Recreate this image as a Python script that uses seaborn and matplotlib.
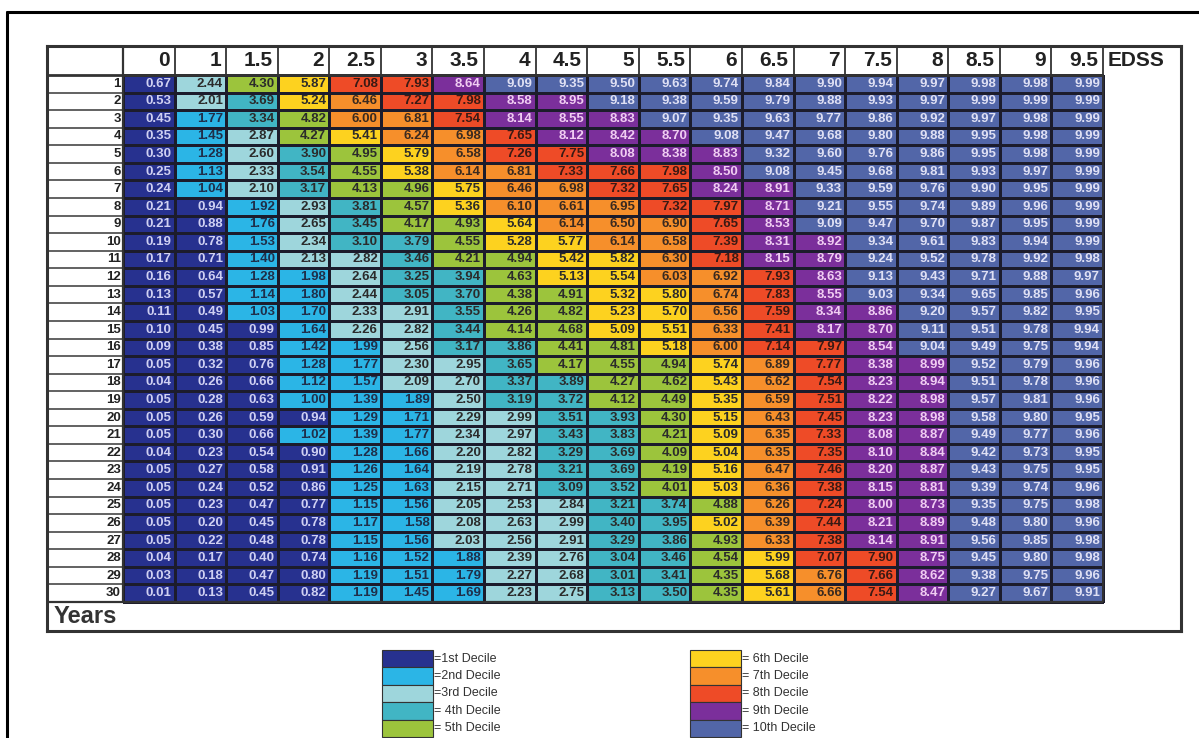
import numpy as np
import pandas as pd
import matplotlib
matplotlib.use("Agg")
import matplotlib.pyplot as plt
from matplotlib.colors import ListedColormap, BoundaryNorm
from matplotlib.patches import Rectangle
from matplotlib.lines import Line2D
import seaborn as sns

# EDSS score columns and follow-up years (rows)
edss_cols = ["0", "1", "1.5", "2", "2.5", "3", "3.5", "4", "4.5", "5",
             "5.5", "6", "6.5", "7", "7.5", "8", "8.5", "9", "9.5"]
years = list(range(1, 31))

# one list per year row
y1 = [0.67, 2.44, 4.30, 5.87, 7.08, 7.93, 8.64, 9.09, 9.35, 9.50, 9.63, 9.74, 9.84, 9.90, 9.94, 9.97, 9.98, 9.98, 9.99]
y2 = [0.53, 2.01, 3.69, 5.24, 6.46, 7.27, 7.98, 8.58, 8.95, 9.18, 9.38, 9.59, 9.79, 9.88, 9.93, 9.97, 9.99, 9.99, 9.99]
y3 = [0.45, 1.77, 3.34, 4.82, 6.00, 6.81, 7.54, 8.14, 8.55, 8.83, 9.07, 9.35, 9.63, 9.77, 9.86, 9.92, 9.97, 9.98, 9.99]
y4 = [0.35, 1.45, 2.87, 4.27, 5.41, 6.24, 6.98, 7.65, 8.12, 8.42, 8.70, 9.08, 9.47, 9.68, 9.80, 9.88, 9.95, 9.98, 9.99]
y5 = [0.30, 1.28, 2.60, 3.90, 4.95, 5.79, 6.58, 7.26, 7.75, 8.08, 8.38, 8.83, 9.32, 9.60, 9.76, 9.86, 9.95, 9.98, 9.99]
y6 = [0.25, 1.13, 2.33, 3.54, 4.55, 5.38, 6.14, 6.81, 7.33, 7.66, 7.98, 8.50, 9.08, 9.45, 9.68, 9.81, 9.93, 9.97, 9.99]
y7 = [0.24, 1.04, 2.10, 3.17, 4.13, 4.96, 5.75, 6.46, 6.98, 7.32, 7.65, 8.24, 8.91, 9.33, 9.59, 9.76, 9.90, 9.95, 9.99]
y8 = [0.21, 0.94, 1.92, 2.93, 3.81, 4.57, 5.36, 6.10, 6.61, 6.95, 7.32, 7.97, 8.71, 9.21, 9.55, 9.74, 9.89, 9.96, 9.99]
y9 = [0.21, 0.88, 1.76, 2.65, 3.45, 4.17, 4.93, 5.64, 6.14, 6.50, 6.90, 7.65, 8.53, 9.09, 9.47, 9.70, 9.87, 9.95, 9.99]
y10 = [0.19, 0.78, 1.53, 2.34, 3.10, 3.79, 4.55, 5.28, 5.77, 6.14, 6.58, 7.39, 8.31, 8.92, 9.34, 9.61, 9.83, 9.94, 9.99]
y11 = [0.17, 0.71, 1.40, 2.13, 2.82, 3.46, 4.21, 4.94, 5.42, 5.82, 6.30, 7.18, 8.15, 8.79, 9.24, 9.52, 9.78, 9.92, 9.98]
y12 = [0.16, 0.64, 1.28, 1.98, 2.64, 3.25, 3.94, 4.63, 5.13, 5.54, 6.03, 6.92, 7.93, 8.63, 9.13, 9.43, 9.71, 9.88, 9.97]
y13 = [0.13, 0.57, 1.14, 1.80, 2.44, 3.05, 3.70, 4.38, 4.91, 5.32, 5.80, 6.74, 7.83, 8.55, 9.03, 9.34, 9.65, 9.85, 9.96]
y14 = [0.11, 0.49, 1.03, 1.70, 2.33, 2.91, 3.55, 4.26, 4.82, 5.23, 5.70, 6.56, 7.59, 8.34, 8.86, 9.20, 9.57, 9.82, 9.95]
y15 = [0.10, 0.45, 0.99, 1.64, 2.26, 2.82, 3.44, 4.14, 4.68, 5.09, 5.51, 6.33, 7.41, 8.17, 8.70, 9.11, 9.51, 9.78, 9.94]
y16 = [0.09, 0.38, 0.85, 1.42, 1.99, 2.56, 3.17, 3.86, 4.41, 4.81, 5.18, 6.00, 7.14, 7.97, 8.54, 9.04, 9.49, 9.75, 9.94]
y17 = [0.05, 0.32, 0.76, 1.28, 1.77, 2.30, 2.95, 3.65, 4.17, 4.55, 4.94, 5.74, 6.89, 7.77, 8.38, 8.99, 9.52, 9.79, 9.96]
y18 = [0.04, 0.26, 0.66, 1.12, 1.57, 2.09, 2.70, 3.37, 3.89, 4.27, 4.62, 5.43, 6.62, 7.54, 8.23, 8.94, 9.51, 9.78, 9.96]
y19 = [0.05, 0.28, 0.63, 1.00, 1.39, 1.89, 2.50, 3.19, 3.72, 4.12, 4.49, 5.35, 6.59, 7.51, 8.22, 8.98, 9.57, 9.81, 9.96]
y20 = [0.05, 0.26, 0.59, 0.94, 1.29, 1.71, 2.29, 2.99, 3.51, 3.93, 4.30, 5.15, 6.43, 7.45, 8.23, 8.98, 9.58, 9.80, 9.95]
y21 = [0.05, 0.30, 0.66, 1.02, 1.39, 1.77, 2.34, 2.97, 3.43, 3.83, 4.21, 5.09, 6.35, 7.33, 8.08, 8.87, 9.49, 9.77, 9.96]
y22 = [0.04, 0.23, 0.54, 0.90, 1.28, 1.66, 2.20, 2.82, 3.29, 3.69, 4.09, 5.04, 6.35, 7.35, 8.10, 8.84, 9.42, 9.73, 9.95]
y23 = [0.05, 0.27, 0.58, 0.91, 1.26, 1.64, 2.19, 2.78, 3.21, 3.69, 4.19, 5.16, 6.47, 7.46, 8.20, 8.87, 9.43, 9.75, 9.95]
y24 = [0.05, 0.24, 0.52, 0.86, 1.25, 1.63, 2.15, 2.71, 3.09, 3.52, 4.01, 5.03, 6.36, 7.38, 8.15, 8.81, 9.39, 9.74, 9.96]
y25 = [0.05, 0.23, 0.47, 0.77, 1.15, 1.56, 2.05, 2.53, 2.84, 3.21, 3.74, 4.88, 6.26, 7.24, 8.00, 8.73, 9.35, 9.75, 9.98]
y26 = [0.05, 0.20, 0.45, 0.78, 1.17, 1.58, 2.08, 2.63, 2.99, 3.40, 3.95, 5.02, 6.39, 7.44, 8.21, 8.89, 9.48, 9.80, 9.96]
y27 = [0.05, 0.22, 0.48, 0.78, 1.15, 1.56, 2.03, 2.56, 2.91, 3.29, 3.86, 4.93, 6.33, 7.38, 8.14, 8.91, 9.56, 9.85, 9.98]
y28 = [0.04, 0.17, 0.40, 0.74, 1.16, 1.52, 1.88, 2.39, 2.76, 3.04, 3.46, 4.54, 5.99, 7.07, 7.90, 8.75, 9.45, 9.80, 9.98]
y29 = [0.03, 0.18, 0.47, 0.80, 1.19, 1.51, 1.79, 2.27, 2.68, 3.01, 3.41, 4.35, 5.68, 6.76, 7.66, 8.62, 9.38, 9.75, 9.96]
y30 = [0.01, 0.13, 0.45, 0.82, 1.19, 1.45, 1.69, 2.23, 2.75, 3.13, 3.50, 4.35, 5.61, 6.66, 7.54, 8.47, 9.27, 9.67, 9.91]

rows = [y1, y2, y3, y4, y5, y6, y7, y8, y9, y10, y11, y12, y13, y14, y15,
        y16, y17, y18, y19, y20, y21, y22, y23, y24, y25, y26, y27, y28, y29, y30]

decile_labels = ["=1st Decile", "=2nd Decile", "=3rd Decile", "= 4th Decile", "= 5th Decile",
                 "= 6th Decile", "= 7th Decile", "= 8th Decile", "= 9th Decile", "= 10th Decile"]
decile_colors = ["#27318f", "#2bb5e6", "#9ed6dc", "#41b5c4", "#9cc43c",
                 "#fdd21f", "#f68f2b", "#ee4b27", "#7b2f9b", "#5266a8"]
decile_text = ["#cfd0f2", "#1f2f4a", "#2b2b2b", "#2b2b2b", "#2b2b2b",
               "#2b2b2b", "#3a2a20", "#3a1a14", "#f0cdf2", "#dfe0f4"]

df = pd.DataFrame(rows, index=years, columns=edss_cols)

sns.set_style("white")
plt.rcParams["font.family"] = ["Liberation Sans", "DejaVu Sans"]

W, H = 1199, 738
fig = plt.figure(figsize=(W / 100, H / 100), dpi=100)

# table box in pixels: x 47-1181, y 46-631
ax = fig.add_axes([47 / W, 1 - 631 / H, (1181 - 47) / W, (631 - 46) / H])

cmap = ListedColormap(decile_colors)
norm = BoundaryNorm(np.arange(0, 11), cmap.N)
sns.heatmap(df, ax=ax, cmap=cmap, norm=norm, cbar=False, annot=True, fmt=".2f",
            linewidths=1, linecolor="#1c1c2c",
            annot_kws={"fontsize": 9.5, "fontweight": "bold"})

# recolour and right-align the cell values
for t in ax.texts:
    v = float(t.get_text())
    k = min(int(v), 9)
    t.set_color(decile_text[k])
    t.set_ha("right")
    x, y = t.get_position()
    t.set_position((x + 0.44, y))

ax.set_xticks([])
ax.set_yticks([])
ax.set_xlabel("")
ax.set_ylabel("")

lab_w = 76 / 51.58
edss_w = 78 / 51.58
head_h = 29 / 17.57
foot_h = 29 / 17.57
ax.set_xlim(-lab_w, 19 + edss_w)
ax.set_ylim(30 + foot_h, -head_h)

for s in ax.spines.values():
    s.set_visible(True)
    s.set_linewidth(2.2)
    s.set_color("#333333")

# table rules
ax.hlines(0, -lab_w, 19, color="#333333", lw=2)
ax.hlines(30, -lab_w, 19, color="#333333", lw=1.6)
ax.hlines(np.arange(1, 30), -lab_w, 0, color="#555555", lw=1.3)
ax.vlines(0, -head_h, 30, color="#333333", lw=1.6)
ax.vlines(np.arange(1, 20), -head_h, 0, color="#333333", lw=1.3)
ax.vlines(19, 0, 30, color="#333333", lw=1.3)

for j, c in enumerate(edss_cols):
    ax.text(j + 0.9, -head_h / 2, c, ha="right", va="center",
            fontsize=15, fontweight="bold", color="#222222")
ax.text(19.08, -head_h / 2, "EDSS", ha="left", va="center",
        fontsize=15, fontweight="bold", color="#222222")
for i, yr in enumerate(years):
    ax.text(-0.04, i + 0.5, str(yr), ha="right", va="center",
            fontsize=9.5, fontweight="bold", color="#222222")
ax.text(-lab_w + 0.12, 30 + foot_h / 2, "Years", ha="left", va="center",
        fontsize=17, fontweight="bold", color="#333333")

# outer frame (left and top edges only)
fig.add_artist(Line2D([7 / W, 7 / W], [0, 1 - 12 / H], color="black", lw=2.2,
                      transform=fig.transFigure))
fig.add_artist(Line2D([7 / W, 1], [1 - 12 / H, 1 - 12 / H], color="black", lw=2.2,
                      transform=fig.transFigure))

# legend of decile colours
sw_w, sw_h = 51, 17.4
for k, (lbl, col) in enumerate(zip(decile_labels, decile_colors)):
    left = 382 if k < 5 else 690
    top = 650 + (k % 5) * sw_h
    fig.add_artist(Rectangle((left / W, 1 - (top + sw_h) / H), sw_w / W, sw_h / H,
                             facecolor=col, edgecolor="#333333", lw=0.8,
                             transform=fig.transFigure))
    fig.text((left + sw_w + 1) / W, 1 - (top + sw_h / 2) / H, lbl,
             ha="left", va="center", fontsize=9, color="#333333")

fig.savefig("out.png", dpi=100)
plt.close(fig)
